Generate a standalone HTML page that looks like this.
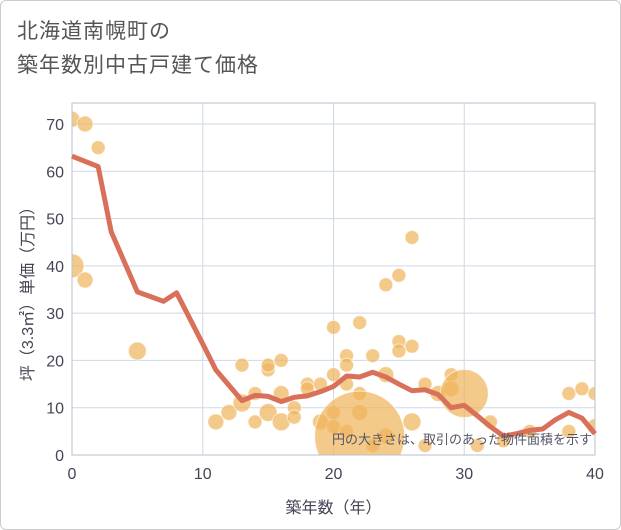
<!DOCTYPE html>
<html><head><meta charset="utf-8"><style>
body{margin:0;background:#fff;font-family:"Liberation Sans","Noto Sans CJK JP",sans-serif}
.card{position:relative;width:619px;height:528px;border:1px solid #ccc;border-radius:6px;background:#fff;overflow:hidden}
.title{position:absolute;left:16px;top:14px;font-size:21px;line-height:34px;color:#555;letter-spacing:1px}
</style></head><body>
<div class="card">
<div class="title">北海道南幌町の<br>築年数別中古戸建て価格</div>
<svg id="c" width="621" height="530" style="position:absolute;left:-1px;top:-1px"><defs><clipPath id="pc"><rect x="72" y="103" width="523" height="352"/></clipPath></defs></svg>
</div>
<script>
const xTicks=[0,10,20,30,40];
const yTicks=[0,10,20,30,40,50,60,70];
const lineYears=[0,2,3,5,7,8,10,11,13,14,15,16,17,18,19,20,21,22,23,24,25,26,27,28,29,30,31,32,33,34,35,36,37,38,39,40];
const linePrice=[63.2,61,47.2,34.5,32.5,34.3,23.5,18,11.5,12.6,12.4,11.3,12.2,12.5,13.4,14.5,16.7,16.5,17.5,16.5,15,13.6,13.8,12.8,10,10.5,8.3,6,4,4.5,5.2,5.5,7.5,9,7.8,4.5];
const ptYears=[0,1,2,0,1,5,11,12,13,13,14,14,15,15,15,16,16,16,17,17,18,18,19,19,20,20,20,20,21,21,21,21,22,22,22,23,23,24,24,24,25,25,25,26,26,26,27,27,28,29,29,30,31,32,33,38,38,39,40,40,35,22];
const ptPrice=[71,70,65,40,37,22,7,9,19,11,13,7,18,19,9,20,13,7,10,8,15,14,15,7,27,17,9,6,21,19,15,5,28,13,9,21,2,36,17,4,38,24,22,46,23,7,15,2,13,17,14,13,2,7,3,13,5,14,13,6,5,4];
const ptSize=[8,8,7,12,8,9,8,8,7,9,7,7,7,7,9,7,8,9,7,7,7,7,7,8,7,7,7,7,7,7,7,7,7,7,8,7,7,7,8,8,7,7,7,7,7,9,7,7,8,7,8,24,7,7,7,7,7,7,7,8,7,45];
const X0=72,X1=595,Y0=455,PX=(X1-X0)/40,PY=(455-124)/70;
const sx=v=>X0+v*PX, sy=v=>Y0-v*PY;
const svg=document.getElementById('c'),NS='http://www.w3.org/2000/svg';
function mk(t,a,p){const e=document.createElementNS(NS,t);for(const k in a)e.setAttribute(k,a[k]);(p||svg).appendChild(e);return e;}
const plot=mk('rect',{x:X0,y:103,width:X1-X0,height:352,fill:'#fff',stroke:'none'});


yTicks.forEach(v=>{const l=mk('line',{x1:X0,x2:X1,y1:sy(v),y2:sy(v),stroke:'#cfd8e3','stroke-width':1});


const t=mk('text',{x:X0-8,y:sy(v)+6,'text-anchor':'end','font-size':16,fill:'#445'});t.textContent=v;

});
xTicks.forEach(v=>{const l=mk('line',{x1:sx(v),x2:sx(v),y1:103,y2:Y0,stroke:'#cfd8e3','stroke-width':1});


const t=mk('text',{x:sx(v),y:Y0+24,'text-anchor':'middle','font-size':16,fill:'#445'});t.textContent=v;

});
const g=mk('g',{'clip-path':'url(#pc)'});


ptYears.forEach((v,i)=>{const c=mk('circle',{cx:sx(v),cy:sy(ptPrice[i]),r:ptSize[i],fill:'rgba(240,180,90,0.7)',stroke:'rgba(255,255,255,0.6)'},g);

});
const fr=mk('rect',{x:X0,y:103,width:X1-X0,height:Y0-103,fill:'none',stroke:'#b8c2cc'});


const pl=mk('polyline',{points:lineYears.map((v,i)=>sx(v)+','+sy(linePrice[i])).join(' '),fill:'none',stroke:'#d9705a','stroke-width':5,'stroke-linejoin':'round'});


const note=mk('text',{x:592,y:444,'text-anchor':'end','font-size':13,fill:'#556'});note.textContent='円の大きさは、取引のあった物件面積を示す';


const xt=mk('text',{x:sx(20),y:513,'text-anchor':'middle','font-size':16,fill:'#445'});xt.textContent='築年数（年）';


const yt=mk('text',{x:0,y:0,'text-anchor':'middle','font-size':16,fill:'#445',transform:'translate(33,290) rotate(-90)'});yt.textContent='坪（3.3㎡）単価（万円）';


</script>
</body></html>
